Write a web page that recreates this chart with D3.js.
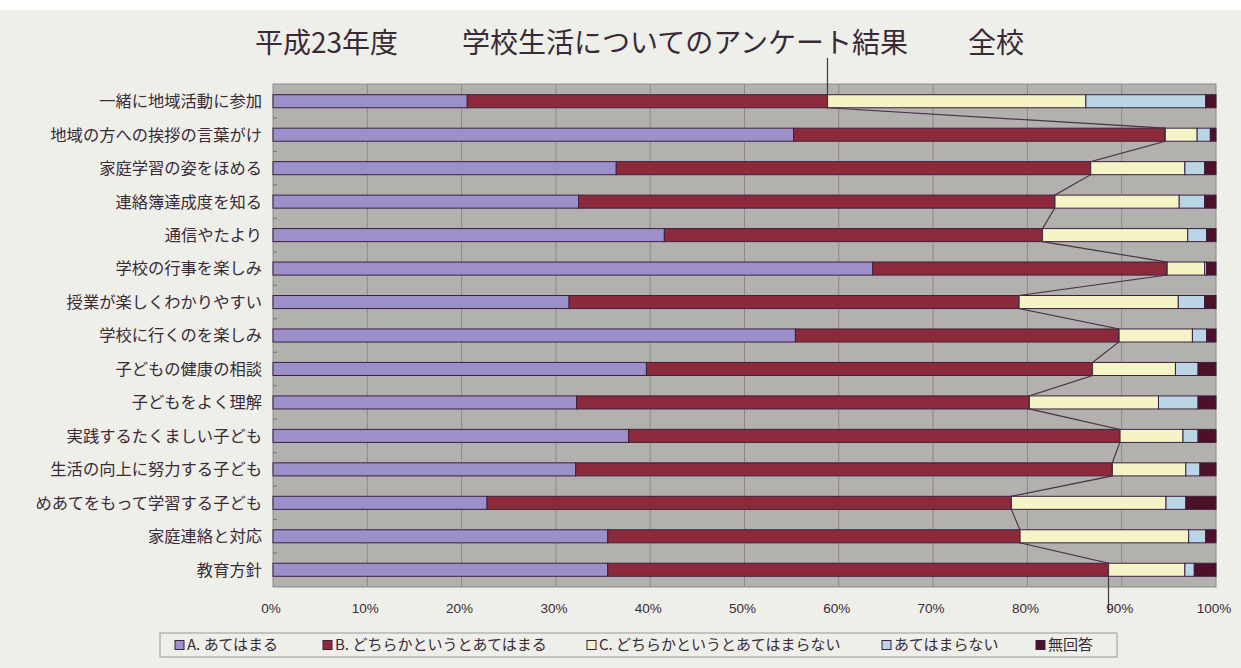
<!DOCTYPE html>
<html>
<head>
<meta charset="utf-8">
<script src="https://cdn.jsdelivr.net/npm/d3@7"></script>
<style>
  html, body { margin: 0; padding: 0; background: #ffffff; }
  svg { display: block; }
</style>
</head>
<body>
<svg id="chart" width="1241" height="668"></svg>
<script>
// categories top to bottom
const categories = [
  '一緒に地域活動に参加',
  '地域の方への挨拶の言葉がけ',
  '家庭学習の姿をほめる',
  '連絡簿達成度を知る',
  '通信やたより',
  '学校の行事を楽しみ',
  '授業が楽しくわかりやすい',
  '学校に行くのを楽しみ',
  '子どもの健康の相談',
  '子どもをよく理解',
  '実践するたくましい子ども',
  '生活の向上に努力する子ども',
  'めあてをもって学習する子ども',
  '家庭連絡と対応',
  '教育方針'
]

const seriesNames = ['A. あてはまる', 'B. どちらかというとあてはまる', 'C. どちらかというとあてはまらない', 'あてはまらない', '無回答']

// percentages, same order as categories
const valuesA = [20.6, 55.2, 36.4, 32.4, 41.5, 63.6, 31.4, 55.4, 39.6, 32.2, 37.7, 32.1, 22.7, 35.5, 35.5]
const valuesB = [38.2, 39.4, 50.3, 50.5, 40.1, 31.2, 47.7, 34.3, 47.3, 48.0, 52.1, 56.9, 55.6, 43.7, 53.1]
const valuesC = [27.4, 3.4, 10.0, 13.2, 15.4, 4.0, 16.9, 7.8, 8.8, 13.7, 6.7, 7.8, 16.4, 17.9, 8.1]
const valuesD = [12.7, 1.4, 2.1, 2.7, 2.0, 0.2, 2.8, 1.5, 2.4, 4.2, 1.6, 1.5, 2.1, 1.8, 1.0]
const valuesE = [1.1, 0.6, 1.2, 1.2, 1.0, 1.0, 1.2, 1.0, 1.9, 1.9, 1.9, 1.7, 3.2, 1.1, 2.3]

const xTicks = [0, 10, 20, 30, 40, 50, 60, 70, 80, 90, 100]

const colors = ['#9d8fc9', '#8c2a3c', '#f4f4c6', '#b9d5e6', '#4c1029']
const ink = '#3a2a38'
const cjk = "'Noto Sans CJK JP', 'Noto Sans', sans-serif"
const latin = "'Liberation Sans', Arial, sans-serif"

const keys = ['A', 'B', 'C', 'D', 'E']
const rows = categories.map((c, i) => ({
  name: c, A: valuesA[i], B: valuesB[i], C: valuesC[i], D: valuesD[i], E: valuesE[i]
}))

const svg = d3.select('#chart')
const margin = { top: 84, left: 273, right: 25, bottom: 81 }
const width = 1241, height = 668

// page background
svg.append('rect')
  .attr('x', 0).attr('y', 10).attr('width', width).attr('height', height - 10)
  .attr('fill', '#edefe8')

const x = d3.scaleLinear().domain([0, 100]).range([margin.left, width - margin.right])
const y = d3.scaleBand().domain(categories)
  .range([margin.top, height - margin.bottom])
  .paddingInner(0.61).paddingOuter(0.32)

// plot area
svg.append('rect')
  .attr('x', x(0)).attr('y', margin.top)
  .attr('width', x(100) - x(0)).attr('height', height - margin.bottom - margin.top)
  .attr('fill', '#b3b1ae')
  .attr('stroke', '#8d8a8b')

// vertical gridlines
svg.append('g')
  .selectAll('line')
  .data(xTicks.slice(1, -1))
  .join('line')
  .attr('x1', d => x(d)).attr('x2', d => x(d))
  .attr('y1', margin.top).attr('y2', height - margin.bottom)
  .attr('stroke', '#8f8789')
  .attr('stroke-width', 1)

// small ticks on the category axis
svg.append('g')
  .selectAll('line')
  .data(categories.slice(1))
  .join('line')
  .attr('x1', x(0)).attr('x2', x(0) + 4)
  .attr('y1', d => y(d) - y.step() * y.paddingInner() / 2)
  .attr('y2', d => y(d) - y.step() * y.paddingInner() / 2)
  .attr('stroke', '#7a7078')

const stack = d3.stack().keys(keys)
const series = stack(rows)

svg.append('g')
  .selectAll('g')
  .data(series)
  .join('g')
  .attr('fill', (d, i) => colors[i])
  .selectAll('rect')
  .data(d => d)
  .join('rect')
  .attr('x', d => x(d[0]))
  .attr('y', d => y(d.data.name))
  .attr('width', d => Math.max(0, x(d[1]) - x(d[0])))
  .attr('height', y.bandwidth())
  .attr('stroke', '#3d2040')
  .attr('stroke-width', 1)

// series line along the end of B
const bEnd = series[1]
const pts = [[x(bEnd[0][1]), 58]]
bEnd.forEach(d => {
  pts.push([x(d[1]), y(d.data.name)])
  pts.push([x(d[1]), y(d.data.name) + y.bandwidth()])
})
pts.push([x(bEnd[bEnd.length - 1][1]), 612])
svg.append('path')
  .attr('d', d3.line()(pts))
  .attr('fill', 'none')
  .attr('stroke', '#4a3448')
  .attr('stroke-width', 1.2)

// category labels
svg.append('g')
  .selectAll('text')
  .data(categories)
  .join('text')
  .attr('x', x(0) - 11)
  .attr('y', d => y(d) + y.bandwidth() / 2)
  .attr('dy', '0.36em')
  .attr('text-anchor', 'end')
  .attr('font-family', cjk)
  .attr('font-size', 16.3)
  .attr('fill', ink)
  .text(d => d)

// x tick labels
svg.append('g')
  .selectAll('text')
  .data(xTicks)
  .join('text')
  .attr('x', d => x(d) - 2)
  .attr('y', 613)
  .attr('text-anchor', 'middle')
  .attr('font-family', latin)
  .attr('font-size', 13.5)
  .attr('fill', ink)
  .text(d => d + '%')

// title
const title = svg.append('text')
  .attr('y', 53)
  .attr('font-family', cjk)
  .attr('font-size', 28)
  .attr('fill', ink)
title.append('tspan').attr('x', 255).text('平成23年度')
title.append('tspan').attr('x', 462).text('学校生活についてのアンケート結果')
title.append('tspan').attr('x', 968).text('全校')

// legend
const legendX = [175, 323, 587, 882, 1036]
svg.append('rect')
  .attr('x', 160).attr('y', 633).attr('width', 957).attr('height', 24)
  .attr('fill', 'none')
  .attr('stroke', '#9a9898')

const legend = svg.append('g')
  .selectAll('g')
  .data(seriesNames)
  .join('g')
  .attr('transform', (d, i) => `translate(${legendX[i]},645)`)
legend.append('rect')
  .attr('x', 0).attr('y', -4.5).attr('width', 9).attr('height', 9)
  .attr('fill', (d, i) => colors[i])
  .attr('stroke', '#3d2040')
legend.append('text')
  .attr('x', 12)
  .attr('dy', '0.36em')
  .attr('font-family', cjk)
  .attr('font-size', 15)
  .attr('fill', ink)
  .text(d => d)
</script>
</body>
</html>
